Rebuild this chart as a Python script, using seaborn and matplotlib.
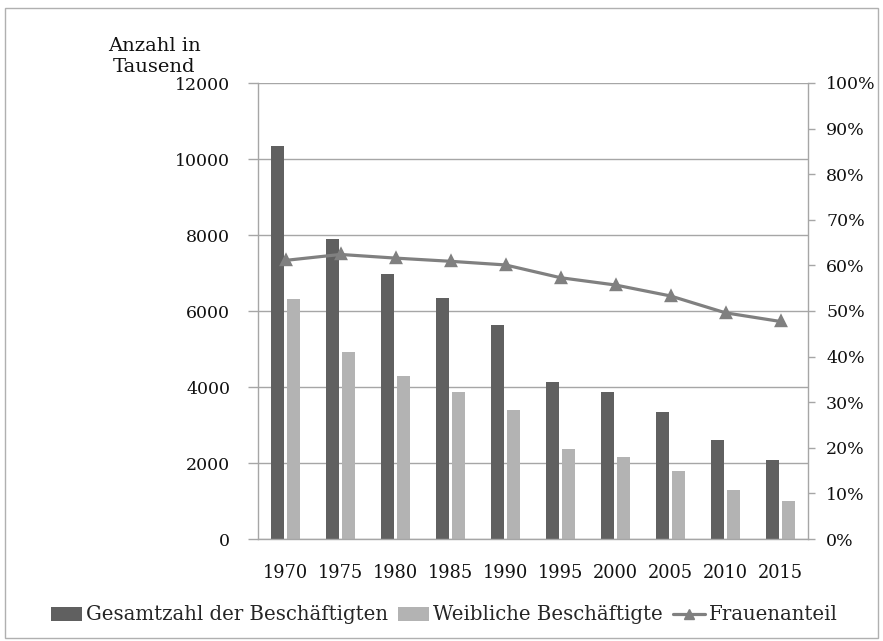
import numpy as np
import pandas as pd
import matplotlib
matplotlib.use("Agg")
import matplotlib.pyplot as plt
from matplotlib.patches import Patch, Rectangle
from matplotlib.lines import Line2D
from matplotlib.ticker import FuncFormatter, MultipleLocator
import seaborn as sns

# Beschäftigte (in Tausend) und Frauenanteil
jahre = ["1970", "1975", "1980", "1985", "1990", "1995", "2000", "2005", "2010", "2015"]
gesamt = [10340, 7900, 6970, 6350, 5640, 4120, 3880, 3340, 2600, 2090]
weiblich = [6320, 4930, 4290, 3870, 3390, 2360, 2160, 1780, 1290, 990]
frauenanteil = [61.1, 62.4, 61.6, 60.9, 60.1, 57.3, 55.7, 53.3, 49.6, 47.7]

serie_gesamt = "Gesamtzahl der Beschäftigten"
serie_weiblich = "Weibliche Beschäftigte"
serie_anteil = "Frauenanteil"

farbe_gesamt = "#606060"
farbe_weiblich = "#b3b3b3"
farbe_linie = "#808080"
farbe_achse = "#a6a6a6"
farbe_text = "#111111"

sns.set_theme(style="white")
plt.rcParams["font.family"] = ["DejaVu Serif"]
plt.rcParams["font.size"] = 12.5

df_bars = pd.DataFrame({
    "Jahr": jahre * 2,
    "Wert": gesamt + weiblich,
    "Serie": [serie_gesamt] * len(jahre) + [serie_weiblich] * len(jahre),
})
df_line = pd.DataFrame({"Jahr": jahre, "Anteil": frauenanteil})

fig = plt.figure(figsize=(8.83, 6.41), dpi=100)
ax = fig.add_axes([258 / 883, 1 - 539 / 641, 550 / 883, 456 / 641])

sns.barplot(data=df_bars, x="Jahr", y="Wert", hue="Serie",
            palette=[farbe_gesamt, farbe_weiblich], width=0.58, gap=0.22,
            linewidth=0, ax=ax, legend=False)

ax.set_ylim(0, 12000)
ax.set_xlim(-0.5, len(jahre) - 0.5)
ax.yaxis.set_major_locator(MultipleLocator(2000))
ax.set_xlabel("")
ax.set_ylabel("")
ax.grid(axis="y", color=farbe_achse, linewidth=1)
ax.set_axisbelow(True)
for side in ["top", "right"]:
    ax.spines[side].set_visible(False)
for side in ["left", "bottom"]:
    ax.spines[side].set_color(farbe_achse)
    ax.spines[side].set_linewidth(1)
ax.tick_params(axis="y", left=True, length=7, width=1, color=farbe_achse,
               pad=13, labelsize=12.5, labelcolor=farbe_text)
ax.tick_params(axis="x", bottom=False, pad=12, labelsize=12.8, labelcolor=farbe_text)

ax2 = ax.twinx()
sns.pointplot(data=df_line, x="Jahr", y="Anteil", color=farbe_linie,
              markers="^", linestyles="-", markersize=7, linewidth=2.3, ax=ax2)
ax2.set_ylim(0, 100)
ax2.set_xlim(-0.5, len(jahre) - 0.5)
ax2.yaxis.set_major_locator(MultipleLocator(10))
ax2.yaxis.set_major_formatter(FuncFormatter(lambda v, p: f"{v:.0f}%"))
ax2.set_ylabel("")
ax2.set_xlabel("")
for side in ["top", "left", "bottom"]:
    ax2.spines[side].set_visible(False)
ax2.spines["right"].set_color(farbe_achse)
ax2.spines["right"].set_linewidth(1)
ax2.tick_params(axis="y", right=True, length=5, width=1, color=farbe_achse,
                pad=8, labelsize=12.5, labelcolor=farbe_text)
ax2.grid(False)

fig.text(154 / 883, 1 - 37 / 641, "Anzahl in\nTausend", ha="center", va="top",
         fontsize=14, color=farbe_text, linespacing=1.2)

handles = [
    Patch(facecolor=farbe_gesamt, edgecolor="none", label=serie_gesamt),
    Patch(facecolor=farbe_weiblich, edgecolor="none", label=serie_weiblich),
    Line2D([], [], color=farbe_linie, linewidth=2.3, marker="^", markersize=7,
           label=serie_anteil),
]
fig.legend(handles=handles, loc="center", bbox_to_anchor=(444 / 883, 1 - 615 / 641),
           ncol=3, frameon=False, fontsize=14.2, handlelength=1.6, handleheight=0.7,
           handletextpad=0.2, columnspacing=0.5, borderpad=0)

fig.patches.append(Rectangle((5 / 883, 1 - 638 / 641), 873 / 883, 630 / 641,
                             transform=fig.transFigure, fill=False,
                             edgecolor="#b0b0b0", linewidth=1))

fig.savefig("out.png", dpi=100)
